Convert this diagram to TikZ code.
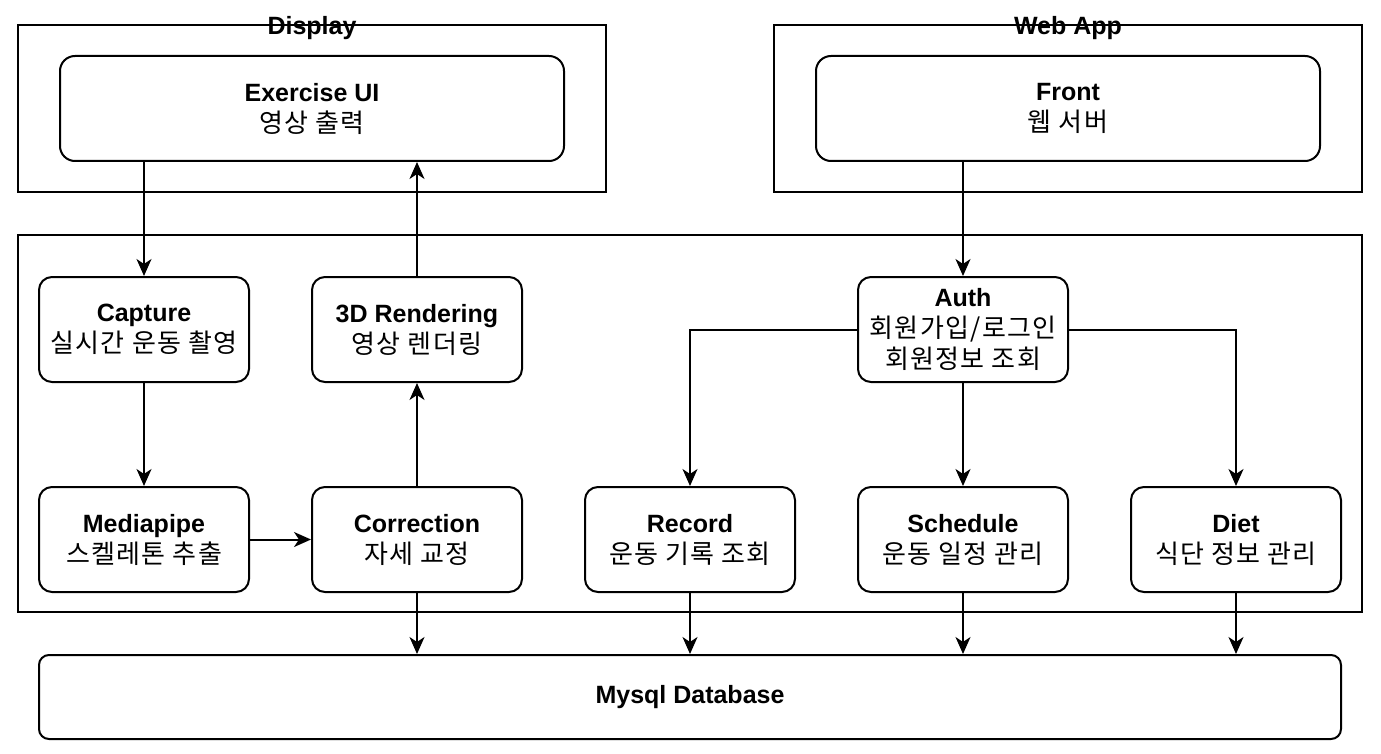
\documentclass[tikz,border=0pt]{standalone}
\usepackage{fontspec}
\setmainfont{Liberation Sans}
\newfontfamily\krf[LetterSpace=5]{Noto Sans CJK KR}
\newcommand{\kr}{\krf\fontsize{26}{31}\selectfont}
\usetikzlibrary{arrows.meta}
\begin{document}
\begin{tikzpicture}[x=1pt,y=-1pt,
  every node/.style={font=\fontsize{25}{31}\selectfont, inner sep=0pt},
  container/.style={draw=black, line width=2pt},
  ctitle/.style={font=\fontsize{25}{28}\selectfont\bfseries},
  proc/.style={draw=black, line width=2pt, rounded corners=13pt, align=center,
    minimum width=210pt, minimum height=105pt},
  wide/.style={draw=black, line width=2pt, rounded corners=15pt, align=center,
    minimum width=504pt, minimum height=105pt},
  arr/.style={line width=2pt, -{Stealth[length=17pt,width=15pt,inset=5pt]}}
]
\useasboundingbox (0,0) rectangle (1381,754);
% containers
\draw[container] (18,25) rectangle (606,192);
\node[ctitle] (tdisp) at (312,28) {Display};
\draw[container] (774,25) rectangle (1362,192);
\node[ctitle] (tweb) at (1068,28) {Web App};
\draw[container] (18,235) rectangle (1362,612);

% top nodes
\node[wide] (exui) at (312,108.5) {\textbf{Exercise UI}\\{\kr 영상 출력}};
\node[wide] (front) at (1068,108.5) {\textbf{Front}\\{\kr 웹 서버}};

% left nodes
\node[proc] (capture) at (144,329.5) {\textbf{Capture}\\{\kr 실시간 운동 촬영}};
\node[proc] (render) at (417,329.5) {\textbf{3D Rendering}\\{\kr 영상 렌더링}};
\node[proc] (media) at (144,539.5) {\textbf{Mediapipe}\\{\kr 스켈레톤 추출}};
\node[proc] (corr) at (417,539.5) {\textbf{Correction}\\{\kr 자세 교정}};

% right nodes
\node[proc] (auth) at (963,329.5) {\textbf{Auth}\\{\kr 회원가입/로그인}\\{\kr 회원정보 조회}};
\node[proc] (record) at (690,539.5) {\textbf{Record}\\{\kr 운동 기록 조회}};
\node[proc] (sched) at (963,539.5) {\textbf{Schedule}\\{\kr 운동 일정 관리}};
\node[proc] (diet) at (1236,539.5) {\textbf{Diet}\\{\kr 식단 정보 관리}};

% database
\node[draw=black, line width=2pt, rounded corners=10pt, minimum width=1302pt, minimum height=84pt,
  font=\fontsize{25}{28}\selectfont\bfseries] (db) at (690,697) {Mysql Database};

% connectors
\draw[arr] (capture.north |- exui.south) -- (capture.north);
\draw[arr] (render.north) -- (render.north |- exui.south);
\draw[arr] (capture.south) -- (media.north);
\draw[arr] (media.east) -- (corr.west);
\draw[arr] (corr.north) -- (render.south);
\draw[arr] (auth.north |- front.south) -- (auth.north);
\draw[arr] (auth.west) -| (record.north);
\draw[arr] (auth.east) -| (diet.north);
\draw[arr] (auth.south) -- (sched.north);
\draw[arr] (corr.south) -- (corr.south |- db.north);
\draw[arr] (record.south) -- (record.south |- db.north);
\draw[arr] (sched.south) -- (sched.south |- db.north);
\draw[arr] (diet.south) -- (diet.south |- db.north);
\end{tikzpicture}
\end{document}
